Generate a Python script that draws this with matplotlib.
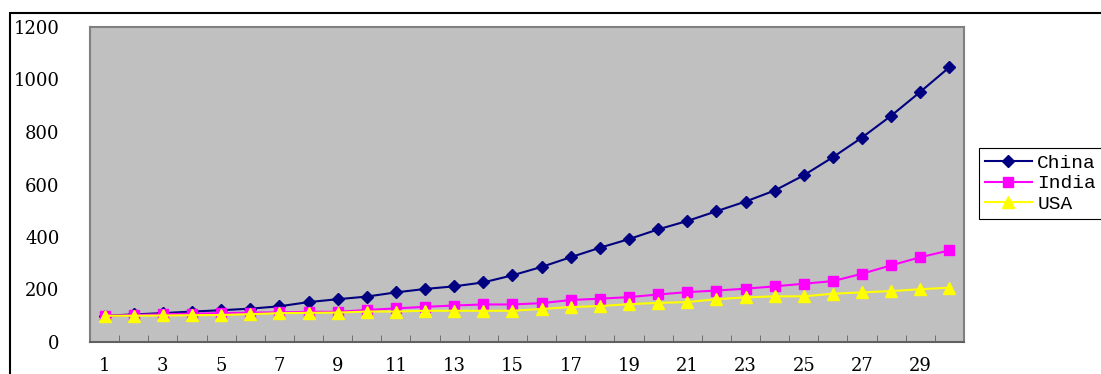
import matplotlib.pyplot as plt
from matplotlib.patches import Rectangle
import numpy as np

years = np.arange(1, 31)
china = [100, 105, 110, 116, 121, 127, 136, 152, 163, 173,
         189, 202, 212, 227, 254, 286, 323, 359, 392, 429,
         461, 498, 535, 577, 635, 704, 779, 862, 953, 1047]
india = [100, 103, 106, 108, 110, 112, 113, 115, 115, 122,
         128, 134, 139, 143, 143, 148, 160, 165, 171, 181,
         190, 196, 203, 212, 222, 232, 260, 292, 323, 349]
usa = [100, 100, 101, 102, 103, 106, 110, 111, 112, 116,
       116, 119, 119, 119, 119, 126, 133, 137, 144, 149,
       152, 163, 170, 174, 174, 184, 189, 194, 201, 207]
tick_labels = [str(i) for i in range(1, 31, 2)]


def main():
    fig = plt.figure(figsize=(11.01, 3.74), dpi=100)
    W, H = 1101, 374
    # outer chart-area border (cropped on right and bottom)
    fig.patches.append(Rectangle((10 / W, -0.1), 1.2, 1 - 13 / H + 0.1,
                                 transform=fig.transFigure, fill=False,
                                 edgecolor='black', linewidth=1.5))
    ax = fig.add_axes([90 / W, 1 - 342 / H, (964 - 90) / W, (342 - 27) / H])
    ax.set_facecolor('#C0C0C0')

    ax.plot(years, china, color='#000080', marker='D', markersize=6,
            linewidth=1.5, label='China')
    ax.plot(years, india, color='#FF00FF', marker='s', markersize=7,
            linewidth=1.5, label='India')
    ax.plot(years, usa, color='#FFFF00', marker='^', markersize=8,
            linewidth=1.5, label='USA')

    ax.set_xlim(0.5, 30.5)
    ax.set_ylim(0, 1200)
    ax.set_yticks(np.arange(0, 1201, 200))
    ax.set_xticks(np.arange(1, 31, 2), labels=tick_labels)
    ax.set_xticks(np.arange(0.5, 31, 1), minor=True)

    for lab in ax.get_xticklabels() + ax.get_yticklabels():
        lab.set_family('DejaVu Serif')
        lab.set_fontsize(13)
    ax.tick_params(axis='x', which='major', length=0, pad=11)
    ax.tick_params(axis='x', which='minor', direction='in', length=5,
                   color='#606060')
    ax.tick_params(axis='y', length=0, pad=22)

    for s in ax.spines.values():
        s.set_color('#808080')
        s.set_linewidth(1.5)
    ax.spines['bottom'].set_color('#606060')

    leg = ax.legend(loc='center left', bbox_to_anchor=(979 / W, 1 - 183.5 / H),
                    bbox_transform=fig.transFigure, borderaxespad=0,
                    frameon=True, fancybox=False,
                    edgecolor='black', framealpha=1, handlelength=2.4,
                    handletextpad=0.3, borderpad=0.3, labelspacing=0.15,
                    prop={'family': 'Liberation Mono', 'size': 14})
    leg.get_frame().set_linewidth(0.8)

    plt.savefig('out.png', dpi=100)


if __name__ == '__main__':
    main()
